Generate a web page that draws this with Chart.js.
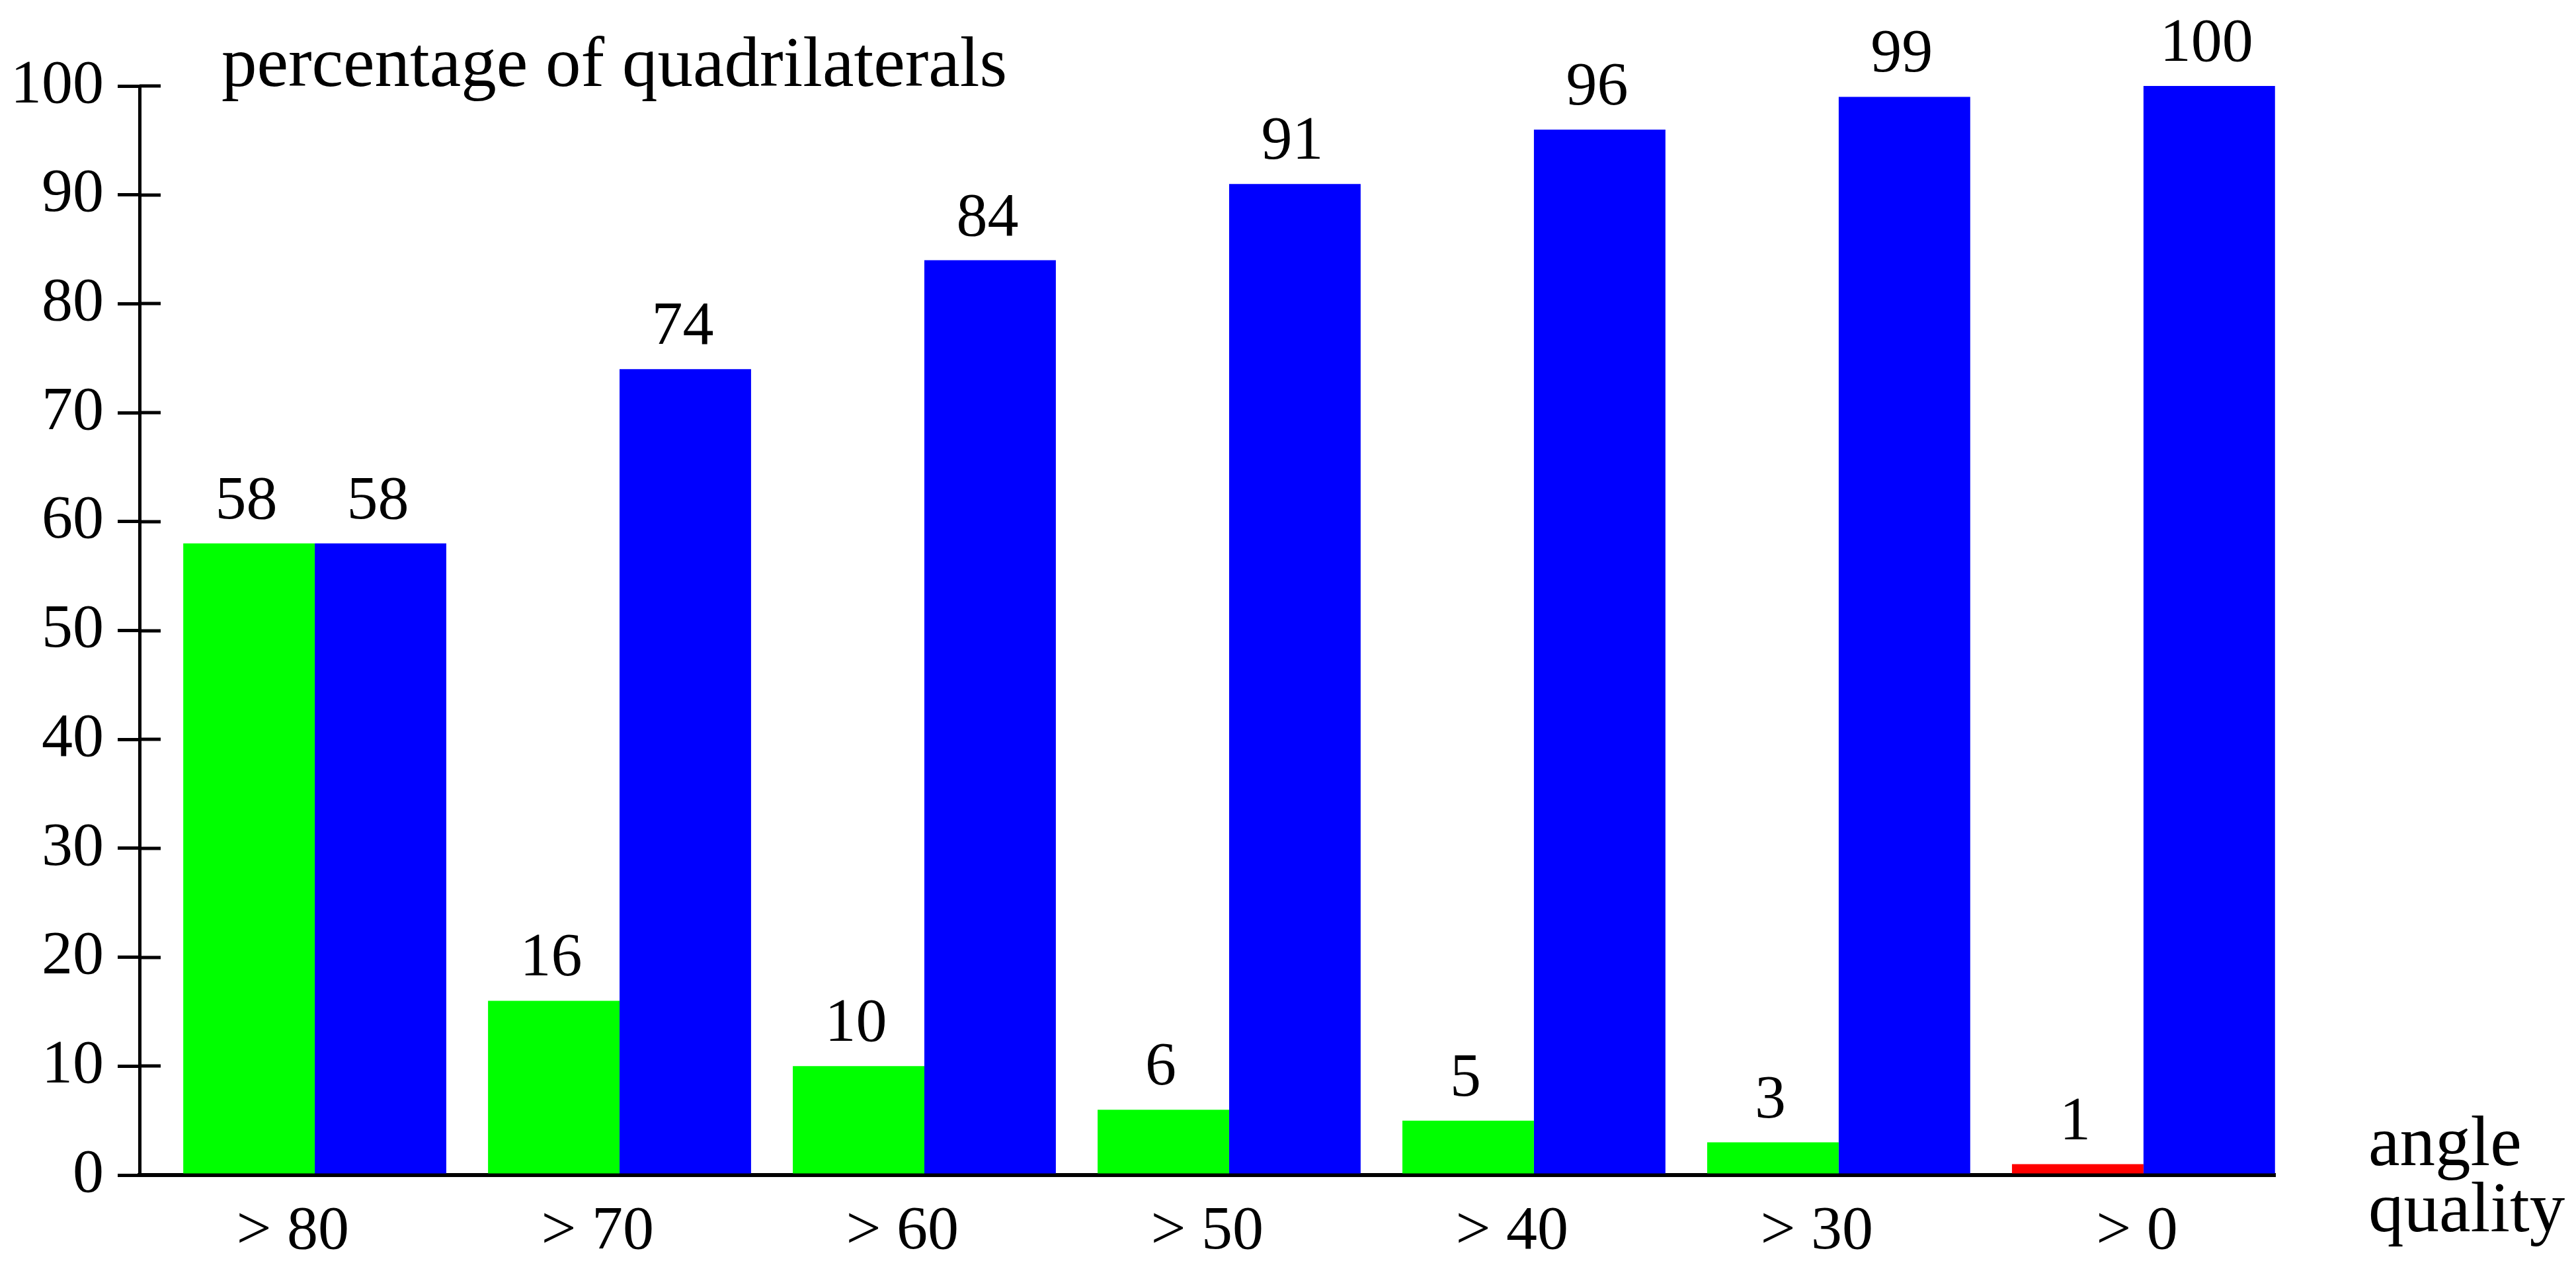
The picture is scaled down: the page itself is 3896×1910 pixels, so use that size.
<!DOCTYPE html>
<html>
<head>
<meta charset="utf-8">
<title>Angle quality of quadrilaterals</title>
<script src="https://cdn.jsdelivr.net/npm/chart.js@4/dist/chart.umd.min.js"></script>
<style>
  html, body { margin: 0; padding: 0; background: #ffffff; }
  canvas { display: block; }
</style>
</head>
<body>
<canvas id="chart" width="3896" height="1910"></canvas>
<script>
// Angle-quality classes along the x axis
const categories = ['> 80', '> 70', '> 60', '> 50', '> 40', '> 30', '> 0'];
// Share of quadrilaterals falling in each class
const classShare = [58, 16, 10, 6, 5, 3, 1];
// Cumulative share of quadrilaterals at or above each class
const cumulativeShare = [58, 74, 84, 91, 96, 99, 100];
// Y axis ticks
const yTicks = [0, 10, 20, 30, 40, 50, 60, 70, 80, 90, 100];

const SERIF = '"Liberation Serif", "Times New Roman", serif';
const NUM_FONT = { family: SERIF, size: 94 };
const TEXT_FONT = '107px ' + SERIF;

const toPoints = vals => vals.map((v, i) => ({ x: i, y: v }));
const shareColors = classShare.map((_, i) => i === classShare.length - 1 ? '#ff0000' : '#00ff00');

// Value printed above every bar
const valueLabels = {
  id: 'valueLabels',
  afterDatasetsDraw(chart) {
    const ctx = chart.ctx;
    ctx.save();
    ctx.font = NUM_FONT.size + 'px ' + SERIF;
    ctx.fillStyle = '#000';
    ctx.textAlign = 'center';
    ctx.textBaseline = 'alphabetic';
    chart.data.datasets.forEach((ds, di) => {
      chart.getDatasetMeta(di).data.forEach((bar, i) => {
        ctx.fillText(String(ds.data[i].y), bar.x - 4, bar.y - 38);
      });
    });
    ctx.restore();
  }
};

// Inner half of the y tick marks, plus the axis captions
const axisExtras = {
  id: 'axisExtras',
  afterDraw(chart) {
    const ctx = chart.ctx;
    const y = chart.scales.y;
    const x = chart.scales.x;
    const area = chart.chartArea;
    ctx.save();
    ctx.strokeStyle = '#000';
    ctx.lineWidth = 5;
    y.ticks.forEach((t, i) => {
      const py = Math.round(y.getPixelForTick(i));
      ctx.beginPath();
      ctx.moveTo(area.left, py);
      ctx.lineTo(area.left + 32, py);
      ctx.stroke();
    });
    ctx.fillStyle = '#000';
    ctx.font = TEXT_FONT;
    ctx.textAlign = 'left';
    ctx.textBaseline = 'alphabetic';
    ctx.fillText('percentage of quadrilaterals', area.left + 124, y.getPixelForValue(100));
    const capX = x.getPixelForValue(x.max) + 141;
    ctx.fillText('angle', capX, area.bottom - 15);
    ctx.fillText('quality', capX, area.bottom + 85);
    ctx.restore();
  }
};

new Chart(document.getElementById('chart'), {
  type: 'bar',
  data: {
    datasets: [
      {
        label: 'share',
        data: toPoints(classShare),
        backgroundColor: shareColors,
        borderWidth: 0
      },
      {
        label: 'cumulative',
        data: toPoints(cumulativeShare),
        backgroundColor: '#0000ff',
        borderWidth: 0
      }
    ]
  },
  options: {
    responsive: false,
    animation: false,
    devicePixelRatio: 1,
    layout: { padding: { top: 130, right: 455, bottom: 0, left: 0 } },
    datasets: { bar: { categoryPercentage: 0.863, barPercentage: 1.0 } },
    plugins: {
      legend: { display: false },
      tooltip: { enabled: false },
      title: { display: false }
    },
    scales: {
      x: {
        type: 'linear',
        offset: false,
        bounds: 'data',
        min: -0.575,
        max: 6.432,
        z: 1,
        afterFit: s => { s.height = 133; },
        afterBuildTicks: s => { s.ticks = categories.map((_, i) => ({ value: i })); },
        grid: { display: false, drawTicks: false, offset: false },
        border: { display: true, color: '#000', width: 6 },
        ticks: {
          callback: v => categories[v],
          align: 'end',
          labelOffset: 52,
          autoSkip: false,
          maxRotation: 0,
          padding: 30,
          color: '#000',
          font: NUM_FONT
        }
      },
      y: {
        type: 'linear',
        min: 0,
        max: 100,
        afterFit: s => { s.width = 211; },
        afterBuildTicks: s => { s.ticks = yTicks.map(v => ({ value: v })); },
        grid: {
          drawOnChartArea: false,
          drawTicks: true,
          tickLength: 33,
          lineWidth: 5,
          color: '#000'
        },
        border: { display: true, color: '#000', width: 5 },
        ticks: {
          padding: 21,
          color: '#000',
          font: NUM_FONT
        }
      }
    }
  },
  plugins: [valueLabels, axisExtras]
});
</script>
</body>
</html>
